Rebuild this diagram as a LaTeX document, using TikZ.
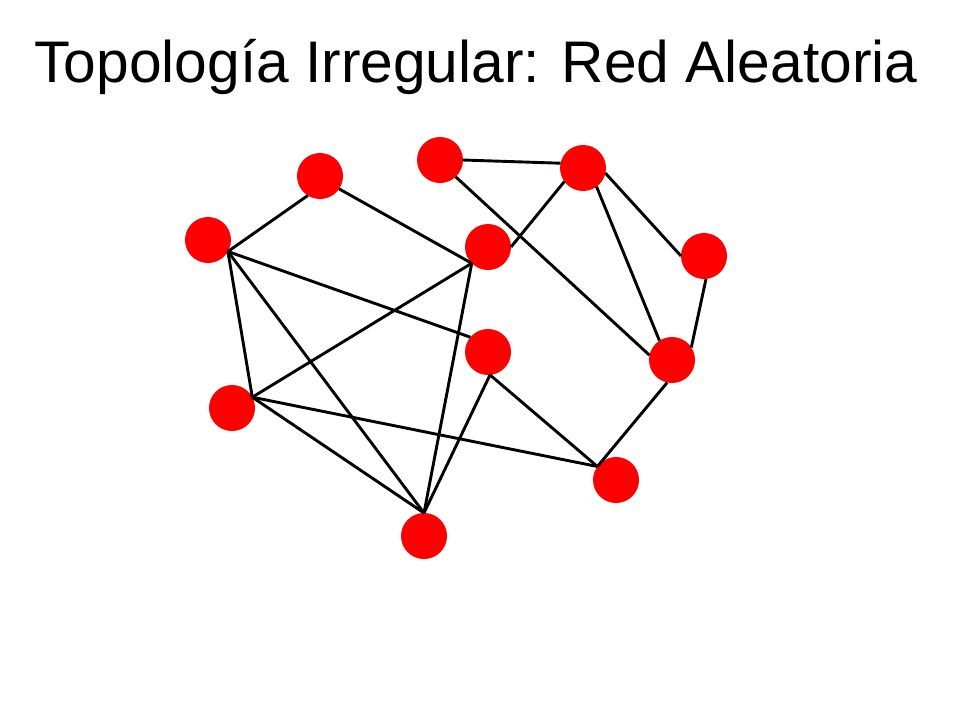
\documentclass[tikz,border=0pt]{standalone}
\usepackage{fontspec}
\setmainfont{Liberation Sans}
\begin{document}
\begin{tikzpicture}[x=1pt,y=-1pt,
  dot/.style={circle,fill=red,draw=none,minimum size=46pt,inner sep=0pt,outer sep=0pt},
  link/.style={line width=2.9pt,black}]
\useasboundingbox (0,0) rectangle (960,720);
\node[anchor=base,font=\fontsize{58.7}{60}\selectfont,inner sep=0pt] (title) at (476,82) {Topología Irregular: Red Aleatoria};
\node[dot] (A) at (320,176) {};
\node[dot] (B) at (208,240) {};
\node[dot] (C) at (440,160) {};
\node[dot] (D) at (583,168) {};
\node[dot] (E) at (488,247) {};
\node[dot] (F) at (704,256) {};
\node[dot] (G) at (488,352) {};
\node[dot] (H) at (672,360) {};
\node[dot] (I) at (232,408) {};
\node[dot] (J) at (616,480) {};
\node[dot] (K) at (424,536) {};
\draw[link] (B.-30) -- (A.-122);
\draw[link] (A.-34) -- (E.-135);
\draw[link] (B.-30) -- (G.140);
\draw[link] (B.-30) -- (I.28);
\draw[link] (B.-30) -- (K.90);
\draw[link] (I.28) -- (E.-135);
\draw[link] (E.-135) -- (K.90);
\draw[link] (I.28) -- (K.90);
\draw[link] (I.28) -- (J.144);
\draw[link] (G.-85) -- (K.90);
\draw[link] (G.-85) -- (J.144);
\draw[link] (J.144) -- (H.-102);
\draw[link] (C.0) -- (D.168);
\draw[link] (C.-47) -- (H.168);
\draw[link] (D.-144) -- (E.0);
\draw[link] (D.-54) -- (H.123);
\draw[link] (D.-13) -- (F.180);
\draw[link] (F.-85) -- (H.33);
\end{tikzpicture}
\end{document}
